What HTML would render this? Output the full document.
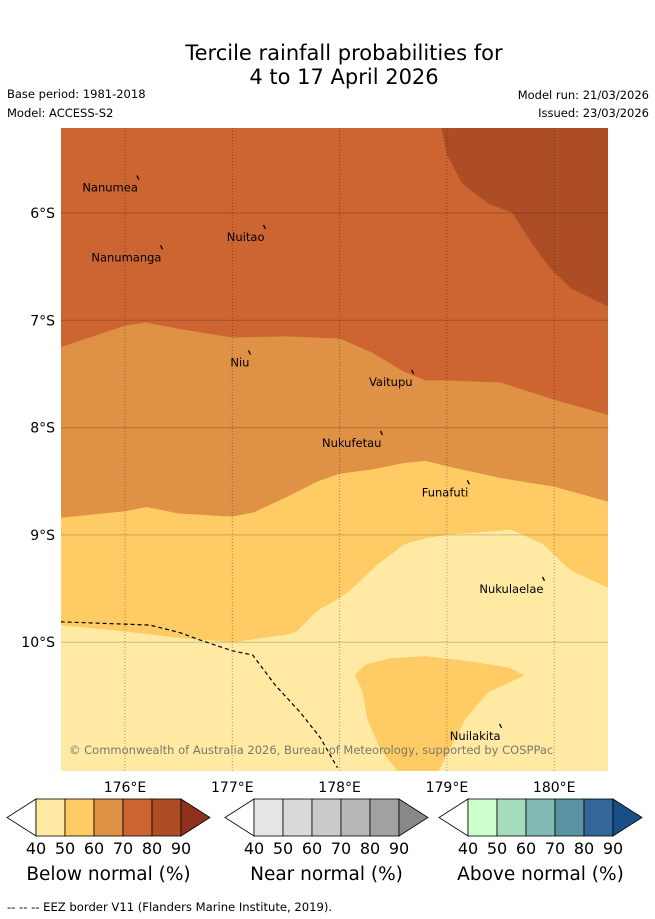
<!DOCTYPE html>
<html><head><meta charset="utf-8"><style>
body{margin:0;background:#fff;width:655px;height:919px;overflow:hidden;font-family:"DejaVu Sans","Liberation Sans",sans-serif}
svg{display:block}
</style></head><body>
<svg id="s" width="655" height="919" xmlns="http://www.w3.org/2000/svg">
<text x="344" y="60" font-size="21" text-anchor="middle">Tercile rainfall probabilities for</text>
<text x="344" y="84" font-size="21" text-anchor="middle">4 to 17 April 2026</text>
<text x="7" y="98" font-size="11.5">Base period: 1981-2018</text>
<text x="7" y="117" font-size="11.5">Model: ACCESS-S2</text>
<text x="649" y="99" font-size="11.5" text-anchor="end">Model run: 21/03/2026</text>
<text x="649" y="117" font-size="11.5" text-anchor="end">Issued: 23/03/2026</text>
<defs><clipPath id="mc"><rect x="61" y="128" width="547" height="643"/></clipPath></defs>
<g id="map" clip-path="url(#mc)"></g>
<g id="ax"></g>
<text x="69" y="754" font-size="11.5" fill="#7a7a6a">© Commonwealth of Australia 2026, Bureau of Meteorology, supported by COSPPac</text>
<g id="cb"></g>
<text x="7" y="911" font-size="11.6">--  --  -- EEZ border V11 (Flanders Marine Institute, 2019).</text>
</svg>
<script>
// ---- data ----
const lonTicks=[176,177,178,179,180];
const latTicks=[6,7,8,9,10];
const bndA_lon=[175.4,176,176.2,176.5,177,177.5,178,178.3,178.6,178.8,179,179.5,180,180.5];
const bndA_lat=[7.25,7.05,7.02,7.08,7.16,7.15,7.17,7.30,7.48,7.56,7.56,7.58,7.74,7.88];
const bndB_lon=[175.4,176,176.2,176.5,177,177.2,177.5,177.8,178,178.3,178.6,178.8,179,179.5,180,180.25,180.5];
const bndB_lat=[8.84,8.78,8.74,8.80,8.83,8.79,8.65,8.50,8.43,8.39,8.33,8.31,8.36,8.47,8.55,8.62,8.69];
const bndC_lon=[175.4,176,176.5,177,177.5,177.6,177.8,178,178.15,178.35,178.6,178.8,179,179.5,179.6,179.9,180.15,180.5];
const bndC_lat=[9.84,9.90,9.96,10.0,9.93,9.90,9.70,9.59,9.47,9.28,9.09,9.03,9.0,8.96,8.95,9.09,9.33,9.49];
const bndD_lon=[178.95,179.0,179.14,179.38,179.61,179.77,179.94,180.15,180.5];
const bndD_lat=[5.21,5.46,5.72,5.91,6.0,6.25,6.49,6.70,6.87];
const blob_lon=[178.14,178.24,178.47,178.80,179.22,179.59,179.72,179.38,179.17,178.98,178.92,178.54,178.38,178.26,178.21];
const blob_lat=[10.31,10.21,10.15,10.13,10.18,10.24,10.31,10.47,10.72,11.09,11.2,11.2,11.0,10.72,10.45];
const eez_lon=[175.4,176.23,176.51,176.70,177.0,177.19,177.40,177.63,177.82,177.98];
const eez_lat=[9.81,9.84,9.91,9.98,10.08,10.12,10.40,10.65,10.89,11.17];
const islandNames=["Nanumea","Nuitao","Nanumanga","Niu","Vaitupu","Nukufetau","Funafuti","Nukulaelae","Nuilakita"];
const islandLon=[176.12,177.30,176.34,177.16,178.68,178.39,179.20,179.90,179.50];
const islandLat=[5.67,6.13,6.32,7.30,7.48,8.05,8.51,9.41,10.78];
const cbLevels=["40","50","60","70","80","90"];
const belowColors=["#ffe9a3","#fecb65","#df9145","#cc6531","#ad4d26","#8e321e"];
const nearColors=["#e5e5e5","#d9d9d9","#cacaca","#b7b7b7","#a1a1a1","#888888"];
const aboveColors=["#ccffcc","#a6dcbe","#82b9b3","#5b93a2","#336699","#174f86"];
const cbTitles=["Below normal (%)","Near normal (%)","Above normal (%)"];
// ---- axes ----
const X=lon=>125+(lon-176)*107.3;
const Y=lat=>213+(lat-6)*107.3;
const NS="http://www.w3.org/2000/svg";
function mk(t,a,p){const e=document.createElementNS(NS,t);for(const k in a)e.setAttribute(k,a[k]);p.appendChild(e);return e;}
const map=document.getElementById('map'),ax=document.getElementById('ax'),cb=document.getElementById('cb');
const L=175.4,R=180.6,T=5.2,B=11.3;
function belowPoly(lons,lats){let p=lons.map((l,i)=>X(l)+','+Y(lats[i]));p.push(X(R)+','+Y(lats[lats.length-1]),X(R)+','+Y(B),X(L)+','+Y(B),X(L)+','+Y(lats[0]));return p.join(' ');}
let e=mk('rect',{x:61,y:128,width:547,height:643,fill:belowColors[3]},map);


e=mk('polygon',{points:bndD_lon.map((l,i)=>X(l)+','+Y(bndD_lat[i])).concat([X(R)+','+Y(bndD_lat[bndD_lat.length-1]),X(R)+','+Y(T)]).join(' '),fill:belowColors[4]},map);


e=mk('polygon',{points:belowPoly(bndA_lon,bndA_lat),fill:belowColors[2]},map);


e=mk('polygon',{points:belowPoly(bndB_lon,bndB_lat),fill:belowColors[1]},map);


e=mk('polygon',{points:belowPoly(bndC_lon,bndC_lat),fill:belowColors[0]},map);


e=mk('polygon',{points:blob_lon.map((l,i)=>X(l)+','+Y(blob_lat[i])).join(' '),fill:belowColors[1]},map);


lonTicks.forEach(l=>{
 e=mk('line',{x1:X(l),x2:X(l),y1:128,y2:771,stroke:'#000','stroke-opacity':0.35,'stroke-width':1,'stroke-dasharray':'1,2'},map);
 
 
 e=mk('text',{x:X(l),y:792,'font-size':14,'text-anchor':'middle'},ax);e.textContent=(l>180?360-l+'°W':l+'°E');
 
 
});
latTicks.forEach(l=>{
 e=mk('line',{x1:61,x2:608,y1:Y(l),y2:Y(l),stroke:'#000','stroke-opacity':0.2,'stroke-width':1},map);
 
 
 e=mk('text',{x:55,y:Y(l)+5,'font-size':14,'text-anchor':'end'},ax);e.textContent=l+'°S';
 
 
});
e=mk('polyline',{points:eez_lon.map((l,i)=>X(l)+','+Y(eez_lat[i])).join(' '),fill:'none',stroke:'#000','stroke-width':1.2,'stroke-dasharray':'4,3'},map);


islandNames.forEach((n,i)=>{
 const x=X(islandLon[i]),y=Y(islandLat[i]);
 e=mk('line',{x1:x-1,y1:y-2,x2:x+1,y2:y+2,stroke:'#000','stroke-width':1.3},map);
 
 
 e=mk('text',{x:x,y:y+14,'font-size':11.5,'text-anchor':'end'},map);e.textContent=n;
 
 
});
[[36,belowColors],[254,nearColors],[468,aboveColors]].forEach(([x0,cols],k)=>{
 const w=29,y0=799,h=37,n=5;
 e=mk('polygon',{points:`${x0},${y0} ${x0-29},${y0+h/2} ${x0},${y0+h}`,fill:'#fff',stroke:'#000','stroke-width':0.8},cb);
 
 
 for(let i=0;i<n;i++){
  e=mk('rect',{x:x0+i*w,y:y0,width:w,height:h,fill:cols[i],stroke:'#000','stroke-width':0.8},cb);
  
  
 }
 const xe=x0+n*w;
 e=mk('polygon',{points:`${xe},${y0} ${xe+29},${y0+h/2} ${xe},${y0+h}`,fill:cols[5],stroke:'#000','stroke-width':0.8},cb);
 
 
 cbLevels.forEach((v,i)=>{
  e=mk('text',{x:x0+i*w,y:854,'font-size':16,'text-anchor':'middle'},cb);e.textContent=v;
  
  
 });
 e=mk('text',{x:x0+n*w/2,y:880,'font-size':18.5,'text-anchor':'middle'},cb);e.textContent=cbTitles[k];
 
 
});
</script>
</body></html>
